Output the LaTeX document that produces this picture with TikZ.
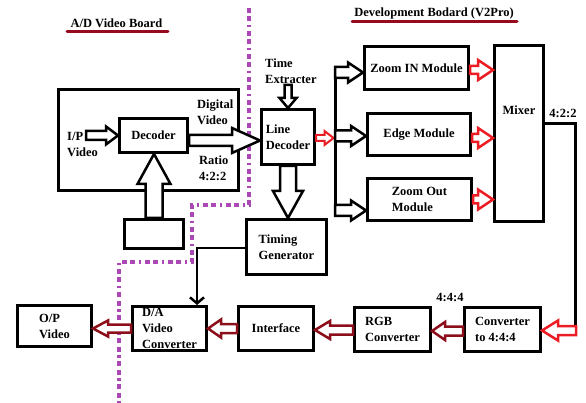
\documentclass[tikz,border=0pt]{standalone}
\usepackage{fontspec}
\setmainfont{Liberation Serif}
\usetikzlibrary{calc,arrows.meta}

\definecolor{flowred}{RGB}{236,28,36}
\definecolor{outred}{RGB}{140,14,26}
\definecolor{titlered}{RGB}{150,10,30}
\definecolor{boardsep}{RGB}{172,72,182}

% Hollow block arrow from #2 to #3:
% #4 half shaft width, #5 half head width, #6 head length
\newcommand\hollowarrow[6][]{%
  \coordinate (ha-a) at (#2);
  \coordinate (ha-b) at (#3);
  \coordinate (ha-m) at ($(ha-b)!#6!(ha-a)$);
  \filldraw[hollow,#1]
    ($(ha-a)!#4!90:(ha-b)$) -- ($(ha-m)!#4!90:(ha-b)$) --
    ($(ha-m)!#5!90:(ha-b)$) -- (ha-b) --
    ($(ha-m)!#5!-90:(ha-b)$) -- ($(ha-m)!#4!-90:(ha-b)$) --
    ($(ha-a)!#4!-90:(ha-b)$) -- cycle;}

\begin{document}
\begin{tikzpicture}[x=1pt,y=-1pt,
  every node/.style={font=\bfseries\fontsize{12.5}{16}\selectfont,inner sep=0pt,align=left},
  box/.style={draw,line width=3pt,fill=white},
  hollow/.style={fill=white,draw=black,line width=2.5pt,line join=miter,miter limit=3},
  redarrow/.style={draw=flowred,line width=2.5pt},
  darkarrow/.style={draw=outred,line width=2.5pt},
  sepline/.style={draw=boardsep,line width=3.5pt,
    dash pattern=on 5pt off 3.5pt on 5pt off 3.5pt on 2.5pt off 3.5pt},
  titleline/.style={draw=titlered,line width=3pt,line cap=round}]

\useasboundingbox (0,0) rectangle (586,403);

% board separator
\draw[sepline] (249,8) -- (249,205) -- (192,205) -- (192,262) -- (119,262) -- (119,403);

% titles
\node (adtitle) at (116.5,23) {A/D Video Board};
\draw[titleline] (67,32) -- (168,32);
\node (devtitle) at (434,13) {Development Bodard (V2Pro)};
\draw[titleline] (352,22) -- (517,22);

% A/D video board
\node[box,minimum width=180pt,minimum height=101pt] (adboard) at (148.5,140) {};
\node[box,minimum width=68pt,minimum height=34pt] (dec) at (153.5,135.5) {Decoder};
\node[box,minimum width=59pt,minimum height=29pt] (small) at (154,234) {};
\node[anchor=west] (iplbl) at (67,144) {I/P\\Video};
\node[anchor=west] (diglbl) at (197,112.5) {Digital\\Video};
\node[anchor=west] (ratiolbl) at (199,168) {Ratio\\4:2:2};

% development board
\node[box,minimum width=53pt,minimum height=55pt] (ld) at (288,137) {Line\\Decoder};
\node[anchor=west] (txlbl) at (265,71) {Time\\Extracter};
\node[box,minimum width=80pt,minimum height=55pt] (tg) at (286.5,247) {Timing\\Generator};
\node[box,minimum width=104pt,minimum height=43pt] (zin) at (416.5,68) {Zoom IN Module};
\node[box,minimum width=103pt,minimum height=42pt] (edge) at (419,134.5) {Edge Module};
\node[box,minimum width=104pt,minimum height=42pt] (zout) at (419.5,199.5) {Zoom Out\\Module};
\node[box,minimum width=49pt,minimum height=176pt] (mixer) at (519,133.5) {};
\node (mixlbl) at ($(mixer.center)+(0,-23.5)$) {Mixer};
\node (r422) at (563,113) {4:2:2};
\node[box,minimum width=76pt,minimum height=44pt] (conv) at (502.5,329.5) {Converter\\to 4:4:4};
\node (r444) at (450,297) {4:4:4};
\node[box,minimum width=76pt,minimum height=44pt] (rgb) at (392.5,329.5) {RGB\\Converter};
\node[box,minimum width=75pt,minimum height=44pt] (intf) at (276,328.5) {Interface};
\node[box,minimum width=74pt,minimum height=44pt] (da) at (169.5,328.5) {D/A\\Video\\Converter};
\node[box,minimum width=74pt,minimum height=41pt] (op) at (54.5,326) {O/P\\Video};

% input side arrows
\coordinate (ipstart) at (86,135.5);
\hollowarrow{ipstart}{dec.west |- ipstart}{4.5pt}{9pt}{12pt}
\coordinate (decout) at ($(dec.east)+(0,5)$);
\hollowarrow{decout}{ld.west |- decout}{5.5pt}{12.5pt}{28pt}
\hollowarrow{small.north}{small.north |- dec.south}{8.5pt}{16.5pt}{30pt}
\coordinate (txstart) at (288,85);
\hollowarrow{txstart}{ld.north}{3.5pt}{8.5pt}{10pt}
\hollowarrow{ld.south}{ld.south |- tg.north}{8pt}{15pt}{27pt}

% distribution bus to the modules
\coordinate (bustop) at (335,67);
\coordinate (busbot) at (335,216);
\coordinate (busin) at (333.5,138);
\coordinate (ldout) at (ld.east |- busin);
\hollowarrow[redarrow,line width=2pt]{ldout}{busin}{3pt}{7pt}{9pt}
\draw[line width=3pt] (bustop) -- (busbot);
\coordinate (b1) at (335,72.5);
\coordinate (b2) at (335,136);
\coordinate (b3) at (335,210.5);
\hollowarrow{b1}{zin.west |- b1}{5.5pt}{10pt}{15pt}
\hollowarrow{b2}{edge.west |- b2}{5.5pt}{10pt}{15pt}
\hollowarrow{b3}{zout.west |- b3}{5.5pt}{10pt}{15pt}

% modules into the mixer
\coordinate (m1) at ($(zin.east)+(0,2)$);
\coordinate (m2) at ($(edge.east)+(0,3.5)$);
\coordinate (m3) at (zout.east);
\hollowarrow[redarrow]{m1}{mixer.west |- m1}{4pt}{10pt}{15pt}
\hollowarrow[redarrow]{m2}{mixer.west |- m2}{4pt}{10pt}{15pt}
\hollowarrow[redarrow]{m3}{mixer.west |- m3}{4pt}{10pt}{15pt}

% mixer output down to the converter
\coordinate (mixout) at ($(mixer.east)+(0,-9.5)$);
\coordinate (downend) at (575,326);
\draw[line width=3pt] (mixout) -| (downend);
\coordinate (convin) at (576,330.5);
\hollowarrow[redarrow]{convin}{conv.east |- convin}{4.5pt}{10pt}{16pt}

% output chain
\coordinate (o1) at ($(conv.west)+(0,1.5)$);
\hollowarrow[darkarrow]{o1}{rgb.east |- o1}{4.5pt}{9pt}{13pt}
\coordinate (o2) at ($(rgb.west)+(0,0.5)$);
\hollowarrow[darkarrow]{o2}{intf.east |- o2}{4.5pt}{9pt}{15pt}
\coordinate (o3) at (intf.west);
\hollowarrow[darkarrow]{o3}{da.east |- o3}{4.5pt}{9pt}{13pt}
\coordinate (o4) at (da.west);
\hollowarrow[darkarrow]{o4}{op.east |- o4}{4pt}{8pt}{15pt}

% timing to the D/A converter
\coordinate (tgout) at ($(tg.west)+(0,1)$);
\coordinate (dain) at ($(da.north)+(27.5,0)$);
\draw[line width=2.5pt,-{Straight Barb[length=6pt,width=14pt]}] (tgout) -| (dain);

\end{tikzpicture}
\end{document}
